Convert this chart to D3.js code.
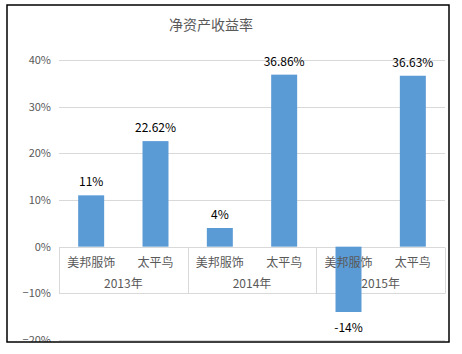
<!DOCTYPE html>
<html>
<head>
<meta charset="utf-8">
<script src="https://cdn.jsdelivr.net/npm/d3@7"></script>
<style>
  body { margin: 0; background: #fff; }
  text { font-family: "Noto Sans CJK SC", "Microsoft YaHei", sans-serif; }
</style>
</head>
<body>
<div id="wrapper"></div>
<script>
// data
var years = ["2013年", "2014年", "2015年"];
var companies = ["美邦服饰", "太平鸟"];
var meibang = [0.11, 0.04, -0.14];
var taiping = [0.2262, 0.3686, 0.3663];
var labels_meibang = ["11%", "4%", "-14%"];
var labels_taiping = ["22.62%", "36.86%", "36.63%"];
var yTicks = [-0.2, -0.1, 0, 0.1, 0.2, 0.3, 0.4];

var rows = [];
years.forEach((yr, i) => {
  rows.push({key: yr + companies[0], year: yr, name: companies[0], value: meibang[i], label: labels_meibang[i]});
  rows.push({key: yr + companies[1], year: yr, name: companies[1], value: taiping[i], label: labels_taiping[i]});
});

var dimension = {
  width: 462,
  height: 354,
  frame: {left: 7, top: 5, right: 449, bottom: 342},
  plot: {left: 59, right: 445, top: 60, bottom: 340}
};

var svg = d3.select("#wrapper")
  .append("svg")
  .attr("width", dimension.width)
  .attr("height", dimension.height);

svg.append("defs").append("clipPath")
  .attr("id", "frameclip")
  .append("rect")
  .attr("x", dimension.frame.left)
  .attr("y", dimension.frame.top)
  .attr("width", dimension.frame.right - dimension.frame.left)
  .attr("height", dimension.frame.bottom - dimension.frame.top);

var g = svg.append("g").attr("clip-path", "url(#frameclip)");

var y = d3.scaleLinear()
  .domain([-0.2, 0.4])
  .range([dimension.plot.bottom, dimension.plot.top]);

var x = d3.scaleBand()
  .domain(rows.map(d => d.key))
  .range([dimension.plot.left, dimension.plot.right])
  .paddingInner(0.596)
  .paddingOuter(0.298);

var xYear = d3.scaleBand()
  .domain(years)
  .range([dimension.plot.left, dimension.plot.right]);

// gridlines
g.selectAll("line.grid")
  .data(yTicks)
  .enter()
  .append("line")
  .attr("class", "grid")
  .attr("x1", dimension.plot.left)
  .attr("x2", dimension.plot.right)
  .attr("y1", d => Math.round(y(d)) + 0.5)
  .attr("y2", d => Math.round(y(d)) + 0.5)
  .style("stroke", "#d9d9d9")
  .style("stroke-width", 1);

// y tick labels
g.selectAll("text.ytick")
  .data(yTicks)
  .enter()
  .append("text")
  .attr("class", "ytick")
  .attr("x", 51)
  .attr("y", d => y(d) + 4)
  .attr("text-anchor", "end")
  .style("font-size", "11px")
  .style("fill", "#595959")
  .text(d => d3.format(".0%")(d));

// category box under zero line
var boxTop = Math.round(y(0)) + 0.5;
var boxBottom = Math.round(y(-0.1)) + 0.5;
var seps = years.map(yr => xYear(yr)).concat([dimension.plot.right]);
g.selectAll("line.sep")
  .data(seps)
  .enter()
  .append("line")
  .attr("class", "sep")
  .attr("x1", d => Math.round(d) + 0.5)
  .attr("x2", d => Math.round(d) + 0.5)
  .attr("y1", boxTop)
  .attr("y2", boxBottom)
  .style("stroke", "#d9d9d9");

// bars
g.selectAll("rect.bar")
  .data(rows)
  .enter()
  .append("rect")
  .attr("class", "bar")
  .attr("x", d => x(d.key))
  .attr("width", x.bandwidth())
  .attr("y", d => y(Math.max(0, d.value)))
  .attr("height", d => Math.abs(y(d.value) - y(0)))
  .style("fill", "#5b9bd5");

// category labels
g.selectAll("text.cat")
  .data(rows)
  .enter()
  .append("text")
  .attr("class", "cat")
  .attr("x", d => x(d.key) + x.bandwidth() / 2)
  .attr("y", y(0) + 20)
  .attr("text-anchor", "middle")
  .style("font-size", "12px")
  .style("fill", "#595959")
  .text(d => d.name);

g.selectAll("text.year")
  .data(years)
  .enter()
  .append("text")
  .attr("class", "year")
  .attr("x", d => xYear(d) + xYear.bandwidth() / 2)
  .attr("y", y(0) + 41)
  .attr("text-anchor", "middle")
  .style("font-size", "12px")
  .style("fill", "#595959")
  .text(d => d);

// value labels
g.selectAll("text.value")
  .data(rows)
  .enter()
  .append("text")
  .attr("class", "value")
  .attr("x", d => x(d.key) + x.bandwidth() / 2)
  .attr("y", d => d.value >= 0 ? y(d.value) - 9 : y(d.value) + 20)
  .attr("text-anchor", "middle")
  .style("font-size", "12px")
  .style("fill", "#000")
  .text(d => d.label);

// title
g.append("text")
  .attr("x", 211)
  .attr("y", 30)
  .attr("text-anchor", "middle")
  .style("font-size", "14px")
  .style("fill", "#595959")
  .text("净资产收益率");

// outer frame
svg.append("rect")
  .attr("x", dimension.frame.left)
  .attr("y", dimension.frame.top)
  .attr("width", dimension.frame.right - dimension.frame.left)
  .attr("height", dimension.frame.bottom - dimension.frame.top)
  .style("fill", "none")
  .style("stroke", "#000")
  .style("stroke-width", 1.5);
</script>
</body>
</html>
